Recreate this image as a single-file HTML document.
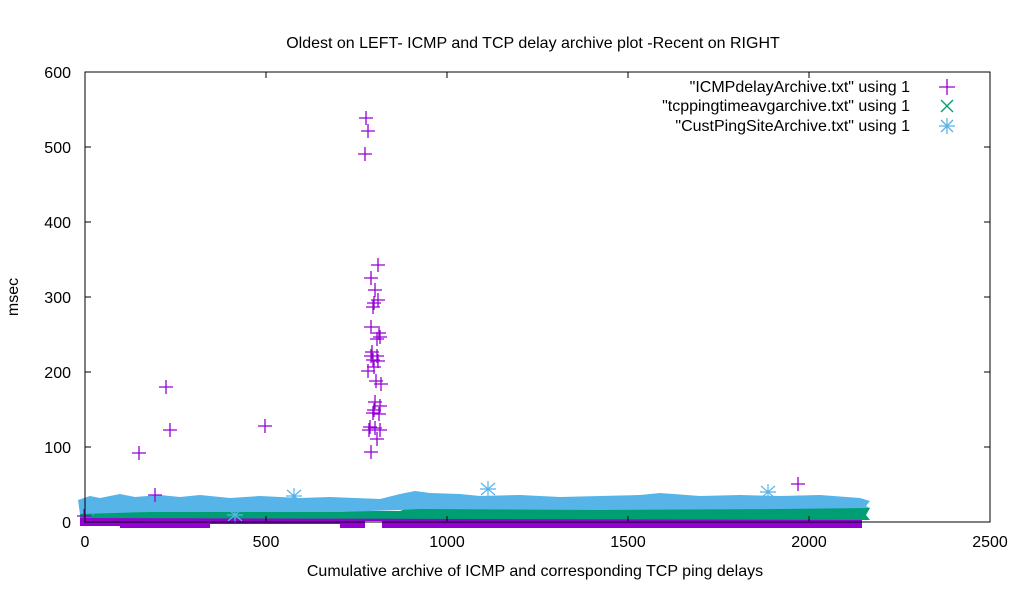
<!DOCTYPE html>
<html><head><meta charset="utf-8"><style>
html,body{margin:0;padding:0;background:#fff;}
svg{display:block;font-family:"Liberation Sans",sans-serif;}
</style></head><body>
<svg width="1020" height="600" viewBox="0 0 1020 600">
<rect width="1020" height="600" fill="#fff"/>
<text x="533" y="48" font-size="16" text-anchor="middle">Oldest on LEFT- ICMP and TCP delay archive plot -Recent on RIGHT</text>
<!-- bands -->
<path d="M80,514 L365,514 L365,528 L340,528 L340,524 L210,524 L210,528 L120,528 L120,526 L80,526 Z" fill="#9400d3"/>
<path d="M365,516 L382,516 L382,521 L365,521 Z" fill="#9400d3"/>
<path d="M382,515 L862,516 L862,528 L382,528 Z" fill="#9400d3"/>
<path d="M80,512 L400,511 L410,507 L460,506 L870,508 L866,515 L870,520 L860,520 L80,518 Z" fill="#009e73"/>
<path d="M78,500 L90,496 L100,498 L120,494 L135,497 L160,495 L180,497 L200,495 L230,498 L260,496 L300,498 L330,497 L380,499 L400,494 L415,491 L430,493 L460,494 L480,496 L520,495 L560,497 L600,496 L640,495 L660,493 L700,496 L740,495 L780,496 L820,495 L860,498 L870,501 L866,506 L870,508 L780,509 L600,510 L420,509 L400,510 L340,512 L250,512 L150,512 L80,514 Z" fill="#56b4e9"/>
<g stroke="#56b4e9" stroke-width="1.2" fill="none">
<path d="M287,490 l14,12 M301,490 l-14,12 M286,496 h16 M294,488 v16"/>
<path d="M481,483 l14,12 M495,483 l-14,12 M480,489 h16 M488,481 v16"/>
<path d="M761,486 l14,12 M775,486 l-14,12 M760,492 h16 M768,484 v16"/>
<path d="M228,509 l14,12 M242,509 l-14,12 M227,515 h16 M235,507 v16"/>
<path d="M86,501 l14,12 M100,501 l-14,12 M85,507 h16 M93,499 v16"/>
</g>
<g stroke="#9400d3" stroke-width="1.3" fill="none">
<path d="
M359,118h14M366,111v14 M361,131h14M368,124v14 M358,154h14M365,147v14
M371,265h14M378,258v14 M364,278h14M371,271v14 M368,290h14M375,283v14
M371,300h14M378,293v14 M367,303h14M374,296v14 M366,307h14M373,300v14
M364,327h14M371,320v14 M372,333h14M379,326v14 M373,337h14M380,330v14
M370,339h14M377,332v14 M365,352h14M372,345v14 M364,356h14M371,349v14
M370,356h14M377,349v14 M366,360h14M373,353v14 M371,361h14M378,354v14
M367,367h14M374,360v14 M361,371h14M368,364v14 M369,381h14M376,374v14
M374,384h14M381,377v14 M368,402h14M375,395v14 M373,406h14M380,399v14
M367,410h14M374,403v14 M366,413h14M373,406v14 M372,414h14M379,407v14
M363,427h14M370,420v14 M368,428h14M375,421v14 M362,430h14M369,423v14
M373,430h14M380,423v14 M370,439h14M377,432v14 M364,452h14M371,445v14
M159,387h14M166,380v14 M163,430h14M170,423v14 M132,453h14M139,446v14
M258,426h14M265,419v14 M148,495h14M155,488v14 M791,484h14M798,477v14
M77,516h14M84,509v14"/>
</g>
<rect x="85" y="72" width="905" height="450" fill="none" stroke="#000" stroke-width="1"/>
<g stroke="#000" stroke-width="1">
<path d="M85,522h6M85,447h6M85,372h6M85,297h6M85,222h6M85,147h6M85,72h6
M990,522h-6M990,447h-6M990,372h-6M990,297h-6M990,222h-6M990,147h-6M990,72h-6
M85,522v-6M266,522v-6M447,522v-6M628,522v-6M809,522v-6M990,522v-6
M85,72v6M266,72v6M447,72v6M628,72v6M809,72v6M990,72v6"/>
</g>
<g font-size="16" text-anchor="end">
<text x="71" y="528">0</text><text x="71" y="453">100</text><text x="71" y="378">200</text>
<text x="71" y="303">300</text><text x="71" y="228">400</text><text x="71" y="153">500</text><text x="71" y="78">600</text>
</g>
<g font-size="16" text-anchor="middle">
<text x="85" y="547">0</text><text x="266" y="547">500</text><text x="447" y="547">1000</text>
<text x="628" y="547">1500</text><text x="809" y="547">2000</text><text x="990" y="547">2500</text>
<text x="535" y="576">Cumulative archive of ICMP and corresponding TCP ping delays</text>
</g>
<text x="18" y="297" font-size="16" text-anchor="middle" transform="rotate(-90 18 297)">msec</text>
<g font-size="16" text-anchor="end">
<text x="910" y="92">"ICMPdelayArchive.txt" using 1</text>
<text x="910" y="111">"tcppingtimeavgarchive.txt" using 1</text>
<text x="910" y="131">"CustPingSiteArchive.txt" using 1</text>
</g>
<path d="M939,87h16M947,79v16" stroke="#9400d3" stroke-width="1.3"/>
<path d="M941,100l12,12M953,100l-12,12" stroke="#009e73" stroke-width="1.3"/>
<path d="M941,120l12,12M953,120l-12,12M939,126h16M947,118v16" stroke="#56b4e9" stroke-width="1.3"/>
</svg>
</body></html>
